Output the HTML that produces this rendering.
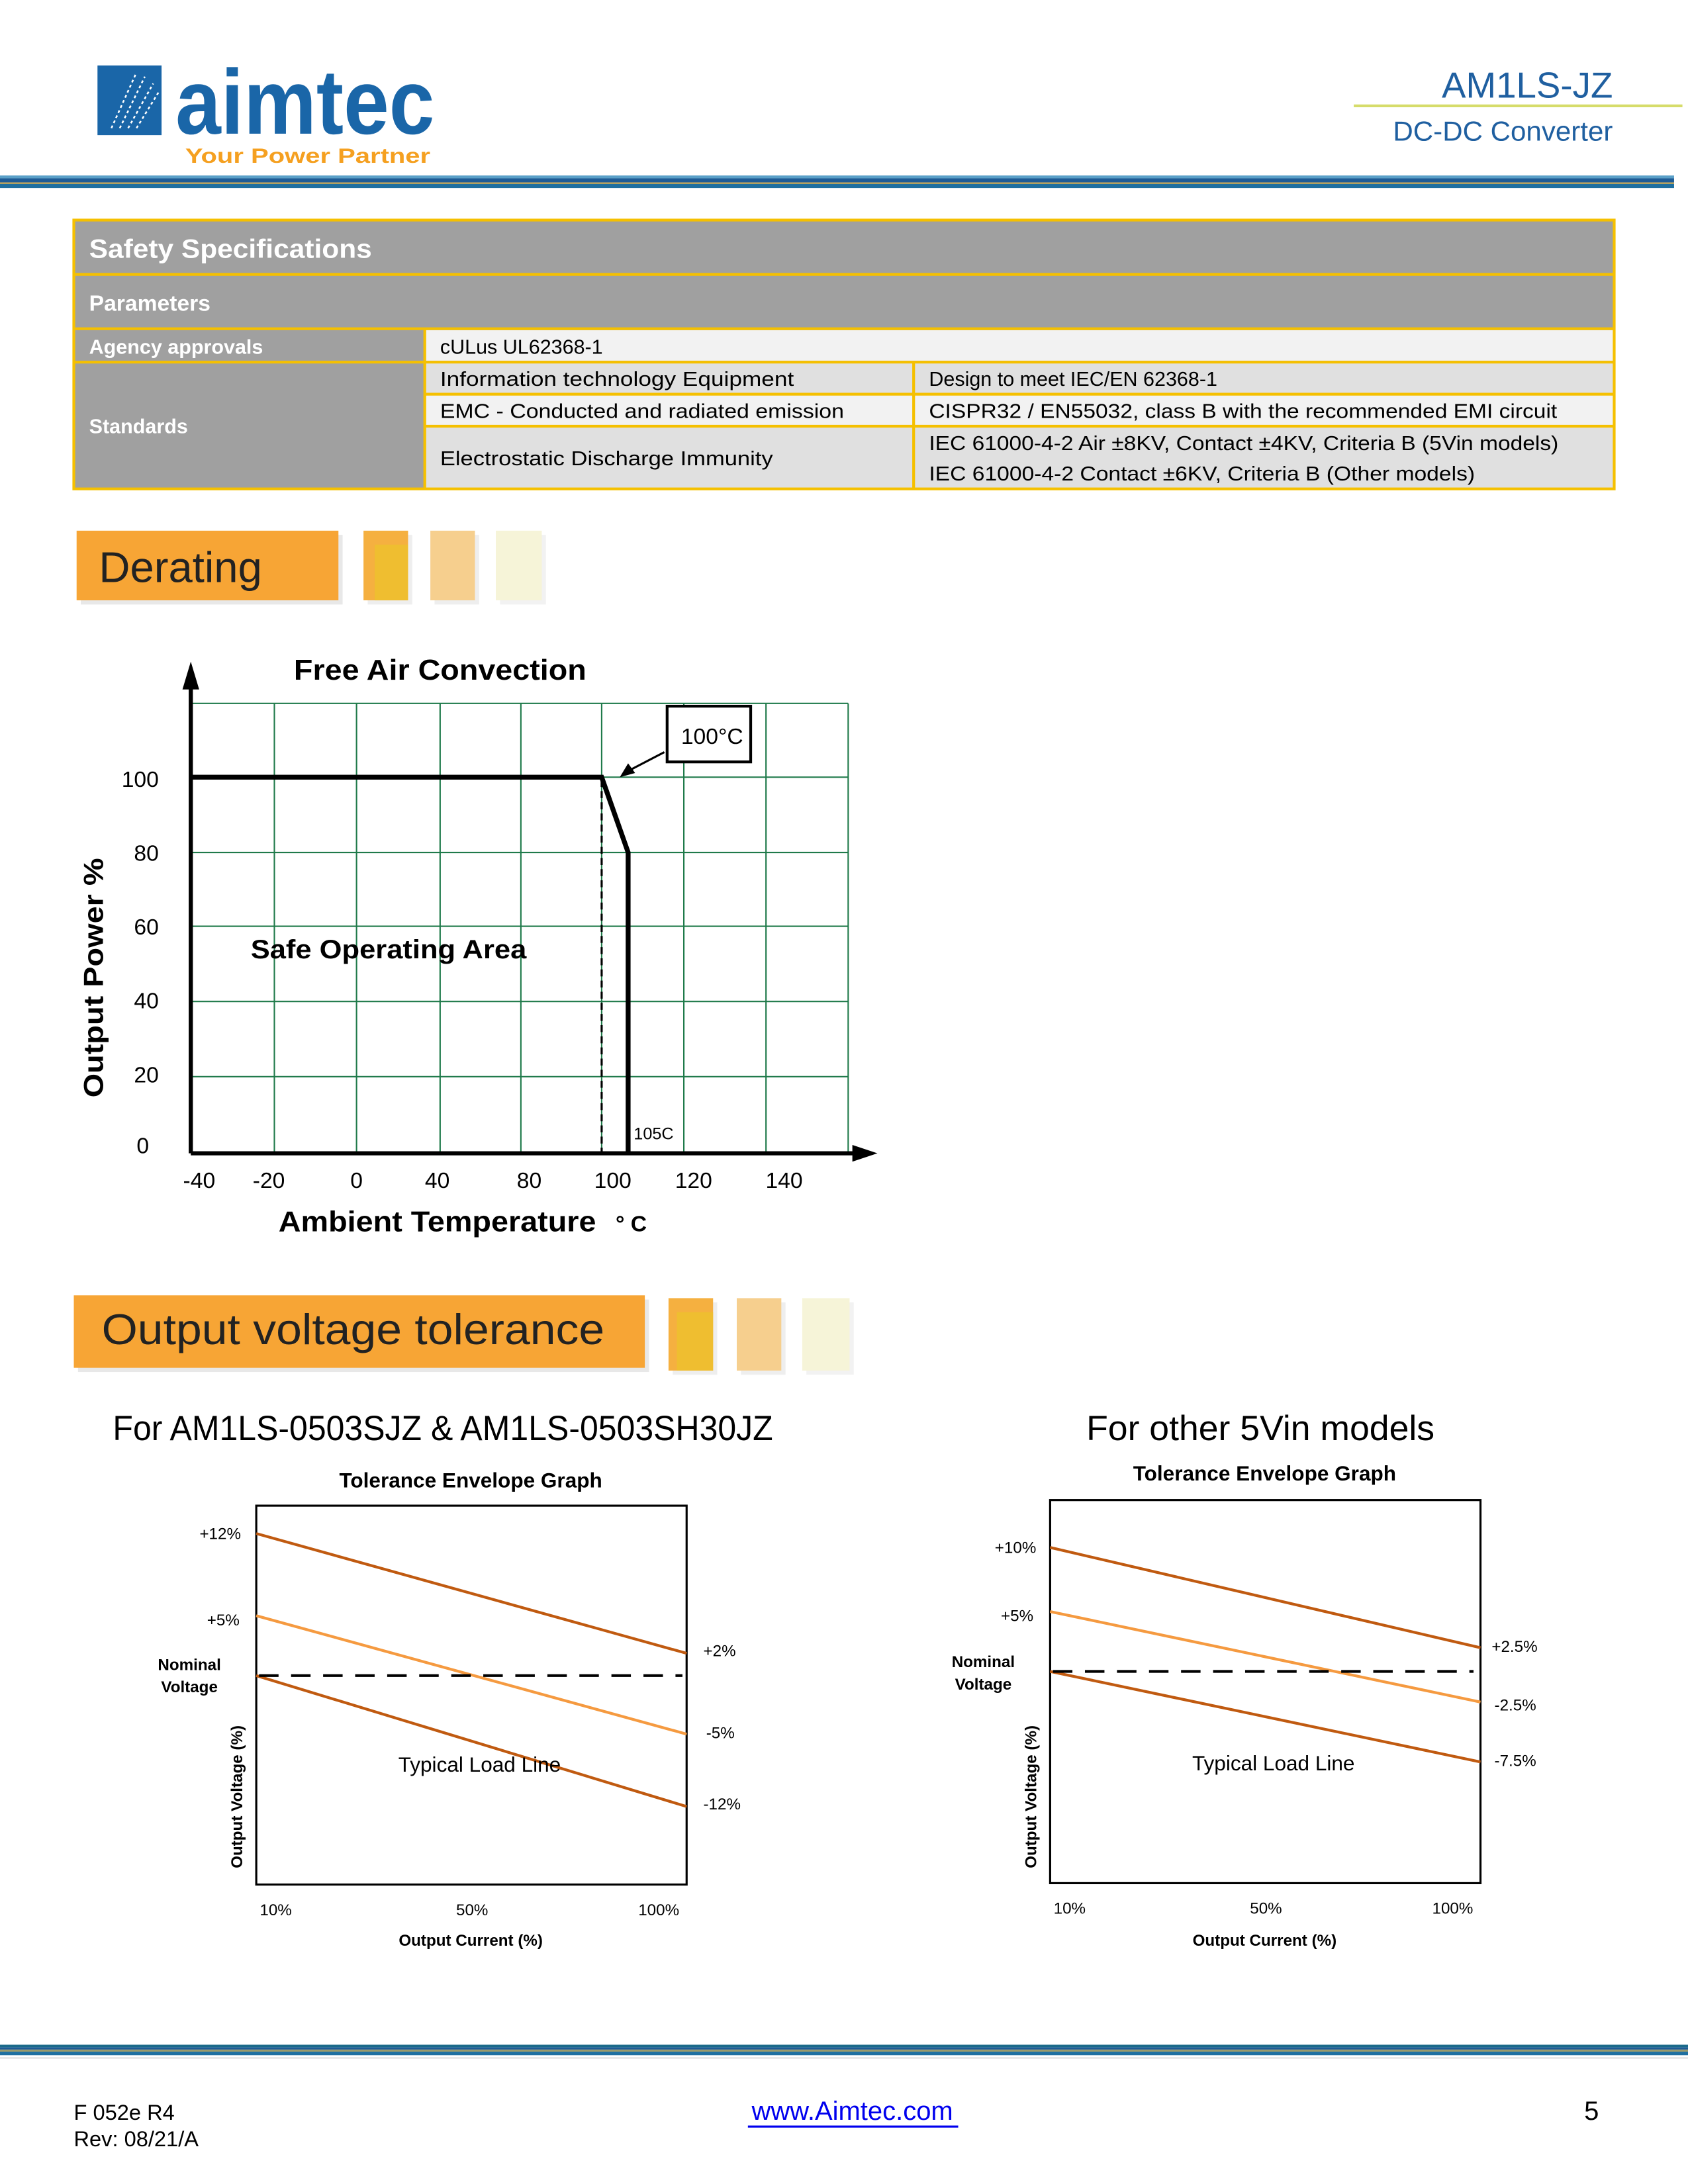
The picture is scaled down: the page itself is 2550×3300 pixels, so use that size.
<!DOCTYPE html>
<html><head><meta charset="utf-8"><style>
html,body{margin:0;padding:0;background:#fff;}
svg{display:block;}
text{font-family:"Liberation Sans",sans-serif;}
</style></head><body>
<svg width="2550" height="3300" viewBox="0 0 1212 1568" preserveAspectRatio="none" xmlns="http://www.w3.org/2000/svg">
<rect width="1212" height="1568" fill="#fff"/>
<!-- Header -->
<rect x="70" y="47" width="46" height="50" fill="#1a66a8"/>
<g stroke="#fff" stroke-width="1.2" stroke-dasharray="2,2">
<line x1="80" y1="92" x2="98" y2="52"/><line x1="86" y1="92" x2="104" y2="55"/><line x1="92" y1="92" x2="110" y2="60"/><line x1="98" y1="92" x2="114" y2="66"/>
</g>
<text x="126" y="96" font-size="66" font-weight="bold" fill="#1a66a8" textLength="186" lengthAdjust="spacingAndGlyphs">aimtec</text>
<text x="133" y="117" font-size="15" font-weight="bold" fill="#f5a020" textLength="176" lengthAdjust="spacingAndGlyphs">Your Power Partner</text>
<text x="1158" y="70" font-size="26" fill="#1f5fa0" text-anchor="end">AM1LS-JZ</text>
<rect x="972" y="75" width="236" height="2" fill="#d6dc6a"/>
<text x="1158" y="101" font-size="20" fill="#1f5fa0" text-anchor="end">DC-DC Converter</text>
<rect x="0" y="126" width="1202" height="2" fill="#5aa0c8"/>
<rect x="0" y="128" width="1202" height="3" fill="#1e5b96"/>
<rect x="0" y="131" width="1202" height="1" fill="#c8a040"/>
<rect x="0" y="132" width="1202" height="3" fill="#1e6fa0"/>
<!-- Table -->
<rect x="53" y="158" width="1106" height="193" fill="#a0a0a0"/>
<rect x="305" y="237" width="854" height="22" fill="#f2f2f2"/>
<rect x="305" y="260" width="854" height="23" fill="#e0e0e0"/>
<rect x="305" y="283" width="854" height="23" fill="#f2f2f2"/>
<rect x="305" y="306" width="854" height="45" fill="#e0e0e0"/>
<g stroke="#f5c000" stroke-width="2" fill="none">
<rect x="53" y="158" width="1106" height="193"/>
<line x1="53" y1="197" x2="1159" y2="197"/>
<line x1="53" y1="236" x2="1159" y2="236"/>
<line x1="53" y1="260" x2="1159" y2="260"/>
<line x1="305" y1="283" x2="1159" y2="283"/>
<line x1="305" y1="306" x2="1159" y2="306"/>
<line x1="305" y1="236" x2="305" y2="351"/>
<line x1="656" y1="260" x2="656" y2="351"/>
</g>
<g fill="#fff" font-weight="bold">
<text x="64" y="185" font-size="19" textLength="203" lengthAdjust="spacingAndGlyphs">Safety Specifications</text>
<text x="64" y="223" font-size="16">Parameters</text>
<text x="64" y="254" font-size="14.5">Agency approvals</text>
<text x="64" y="311" font-size="14.5">Standards</text>
</g>
<g fill="#000" font-size="14.5">
<text x="316" y="254">cULus UL62368-1</text>
<text x="316" y="277" textLength="254" lengthAdjust="spacingAndGlyphs">Information technology Equipment</text>
<text x="667" y="277">Design to meet IEC/EN 62368-1</text>
<text x="316" y="300" textLength="290" lengthAdjust="spacingAndGlyphs">EMC - Conducted and radiated emission</text>
<text x="667" y="300" textLength="451" lengthAdjust="spacingAndGlyphs">CISPR32 / EN55032, class B with the recommended EMI circuit</text>
<text x="316" y="334" textLength="239" lengthAdjust="spacingAndGlyphs">Electrostatic Discharge Immunity</text>
<text x="667" y="323" textLength="452" lengthAdjust="spacingAndGlyphs">IEC 61000-4-2 Air ±8KV, Contact ±4KV, Criteria B (5Vin models)</text>
<text x="667" y="345" textLength="392" lengthAdjust="spacingAndGlyphs">IEC 61000-4-2 Contact ±6KV, Criteria B (Other models)</text>
</g>
<!-- Derating header -->
<rect x="58" y="384" width="188" height="50" fill="#e8e8e8"/>
<rect x="55" y="381" width="188" height="50" fill="#f7a535"/>
<text x="71" y="418" font-size="31" fill="#222">Derating</text>
<rect x="264" y="384" width="32" height="50" fill="#eee"/>
<rect x="261" y="381" width="32" height="50" fill="#f5b040"/>
<rect x="269" y="391" width="24" height="40" fill="#efbe30"/>
<rect x="312" y="384" width="32" height="50" fill="#eee"/>
<rect x="309" y="381" width="32" height="50" fill="#f6cf8e"/>
<rect x="359" y="384" width="33" height="50" fill="#f2f2f2"/>
<rect x="356" y="381" width="33" height="50" fill="#f6f4d8"/>
<!-- Derating chart -->
<g stroke="#1f7a4a" stroke-width="1">
<line x1="197" y1="505" x2="197" y2="828"/><line x1="256" y1="505" x2="256" y2="828"/><line x1="316" y1="505" x2="316" y2="828"/><line x1="374" y1="505" x2="374" y2="828"/><line x1="432" y1="505" x2="432" y2="828"/><line x1="491" y1="505" x2="491" y2="828"/><line x1="550" y1="505" x2="550" y2="828"/><line x1="609" y1="505" x2="609" y2="828"/>
<line x1="137" y1="505" x2="609" y2="505"/><line x1="137" y1="558" x2="609" y2="558"/><line x1="137" y1="612" x2="609" y2="612"/><line x1="137" y1="665" x2="609" y2="665"/><line x1="137" y1="719" x2="609" y2="719"/><line x1="137" y1="773" x2="609" y2="773"/>
</g>
<rect x="479" y="507" width="60" height="40" fill="#fff" stroke="#000" stroke-width="2"/>
<text x="489" y="534" font-size="16">100°C</text>
<line x1="477" y1="540" x2="452" y2="553" stroke="#000" stroke-width="1.5"/>
<polygon points="445,558 451,548 456,555" fill="#000"/>
<line x1="137" y1="828" x2="615" y2="828" stroke="#000" stroke-width="3"/>
<polygon points="612,822 630,828 612,834" fill="#000"/>
<line x1="137" y1="828" x2="137" y2="490" stroke="#000" stroke-width="3"/>
<polygon points="131,495 137,475 143,495" fill="#000"/>
<polyline points="137,558 432,558 451,612 451,828" fill="none" stroke="#000" stroke-width="3.5"/>
<line x1="432" y1="560" x2="432" y2="828" stroke="#000" stroke-width="1.5" stroke-dasharray="5,3"/>
<text x="455" y="818" font-size="12">105C</text>
<text x="180" y="688" font-size="19" font-weight="bold" textLength="198" lengthAdjust="spacingAndGlyphs">Safe Operating Area</text>
<text x="211" y="488" font-size="20.5" font-weight="bold" textLength="210" lengthAdjust="spacingAndGlyphs">Free Air Convection</text>
<g font-size="16" text-anchor="end">
<text x="114" y="565">100</text><text x="114" y="618">80</text><text x="114" y="671">60</text><text x="114" y="724">40</text><text x="114" y="777">20</text><text x="107" y="828">0</text>
</g>
<g font-size="16" text-anchor="middle">
<text x="143" y="853">-40</text><text x="193" y="853">-20</text><text x="256" y="853">0</text><text x="314" y="853">40</text><text x="380" y="853">80</text><text x="440" y="853">100</text><text x="498" y="853">120</text><text x="563" y="853">140</text>
</g>
<text x="200" y="884" font-size="20.5" font-weight="bold" textLength="228" lengthAdjust="spacingAndGlyphs">Ambient Temperature</text>
<text x="442" y="884" font-size="16" font-weight="bold">° C</text>
<text transform="translate(74,702) rotate(-90)" font-size="20" font-weight="bold" text-anchor="middle" textLength="172" lengthAdjust="spacingAndGlyphs">Output Power %</text>
<!-- Output voltage tolerance header -->
<rect x="56" y="933" width="410" height="52" fill="#e8e8e8"/>
<rect x="53" y="930" width="410" height="52" fill="#f7a535"/>
<text x="73" y="965" font-size="31" fill="#222" textLength="361" lengthAdjust="spacingAndGlyphs">Output voltage tolerance</text>
<rect x="483" y="935" width="32" height="52" fill="#eee"/>
<rect x="480" y="932" width="32" height="52" fill="#f5b040"/>
<rect x="486" y="942" width="26" height="42" fill="#efbe30"/>
<rect x="532" y="935" width="32" height="52" fill="#eee"/>
<rect x="529" y="932" width="32" height="52" fill="#f6cf8e"/>
<rect x="579" y="935" width="34" height="52" fill="#f2f2f2"/>
<rect x="576" y="932" width="34" height="52" fill="#f6f4d8"/>
<!-- Left tolerance -->
<text x="81" y="1034" font-size="25" textLength="474" lengthAdjust="spacingAndGlyphs">For AM1LS-0503SJZ &amp; AM1LS-0503SH30JZ</text>
<text x="338" y="1068" font-size="15" font-weight="bold" text-anchor="middle">Tolerance Envelope Graph</text>
<rect x="184" y="1081" width="309" height="272" fill="none" stroke="#000" stroke-width="1.5"/>
<line x1="184" y1="1101" x2="493" y2="1187" stroke="#c05a10" stroke-width="2"/>
<line x1="184" y1="1160" x2="493" y2="1245" stroke="#f59a40" stroke-width="2"/>
<line x1="184" y1="1203" x2="493" y2="1297" stroke="#c05a10" stroke-width="2"/>
<line x1="186" y1="1203" x2="490" y2="1203" stroke="#000" stroke-width="2" stroke-dasharray="14,9"/>
<g font-size="11.5">
<text x="173" y="1105" text-anchor="end">+12%</text><text x="172" y="1167" text-anchor="end">+5%</text>
<text x="505" y="1189">+2%</text><text x="507" y="1248">-5%</text><text x="505" y="1299">-12%</text>
<text x="198" y="1375" text-anchor="middle">10%</text><text x="339" y="1375" text-anchor="middle">50%</text><text x="473" y="1375" text-anchor="middle">100%</text>
</g>
<g font-size="11.5" font-weight="bold" text-anchor="middle">
<text x="136" y="1199">Nominal</text><text x="136" y="1215">Voltage</text>
<text x="338" y="1397">Output Current (%)</text>
<text transform="translate(174,1290) rotate(-90)">Output Voltage (%)</text>
</g>
<text x="286" y="1272" font-size="15">Typical Load Line</text>
<!-- Right tolerance -->
<text x="905" y="1034" font-size="25" text-anchor="middle" textLength="250" lengthAdjust="spacingAndGlyphs">For other 5Vin models</text>
<text x="908" y="1063" font-size="15" font-weight="bold" text-anchor="middle">Tolerance Envelope Graph</text>
<rect x="754" y="1077" width="309" height="275" fill="none" stroke="#000" stroke-width="1.5"/>
<line x1="754" y1="1111" x2="1063" y2="1183" stroke="#c05a10" stroke-width="2"/>
<line x1="754" y1="1157" x2="1063" y2="1222" stroke="#f59a40" stroke-width="2"/>
<line x1="754" y1="1200" x2="1063" y2="1265" stroke="#c05a10" stroke-width="2"/>
<line x1="756" y1="1200" x2="1058" y2="1200" stroke="#000" stroke-width="2" stroke-dasharray="14,9"/>
<g font-size="11.5">
<text x="744" y="1115" text-anchor="end">+10%</text><text x="742" y="1164" text-anchor="end">+5%</text>
<text x="1071" y="1186">+2.5%</text><text x="1073" y="1228">-2.5%</text><text x="1073" y="1268">-7.5%</text>
<text x="768" y="1374" text-anchor="middle">10%</text><text x="909" y="1374" text-anchor="middle">50%</text><text x="1043" y="1374" text-anchor="middle">100%</text>
</g>
<g font-size="11.5" font-weight="bold" text-anchor="middle">
<text x="706" y="1197">Nominal</text><text x="706" y="1213">Voltage</text>
<text x="908" y="1397">Output Current (%)</text>
<text transform="translate(744,1290) rotate(-90)">Output Voltage (%)</text>
</g>
<text x="856" y="1271" font-size="15">Typical Load Line</text>
<!-- Footer -->
<rect x="0" y="1468" width="1212" height="2" fill="#1a6a8a"/>
<rect x="0" y="1470" width="1212" height="1.5" fill="#1e5b96"/>
<rect x="0" y="1471.5" width="1212" height="1.5" fill="#9a9a6a"/>
<rect x="0" y="1473" width="1212" height="2.5" fill="#1e6fa0"/>
<rect x="0" y="1477" width="1212" height="1" fill="#ddd"/>
<text x="53" y="1522" font-size="15.5">F 052e R4</text>
<text x="53" y="1541" font-size="15.5">Rev: 08/21/A</text>
<text x="612" y="1522" font-size="19" fill="#0000ee" text-anchor="middle">www.Aimtec.com</text>
<rect x="537" y="1526" width="151" height="1.5" fill="#0000ee"/>
<text x="1148" y="1522" font-size="19" text-anchor="end">5</text>
</svg>
</body></html>
